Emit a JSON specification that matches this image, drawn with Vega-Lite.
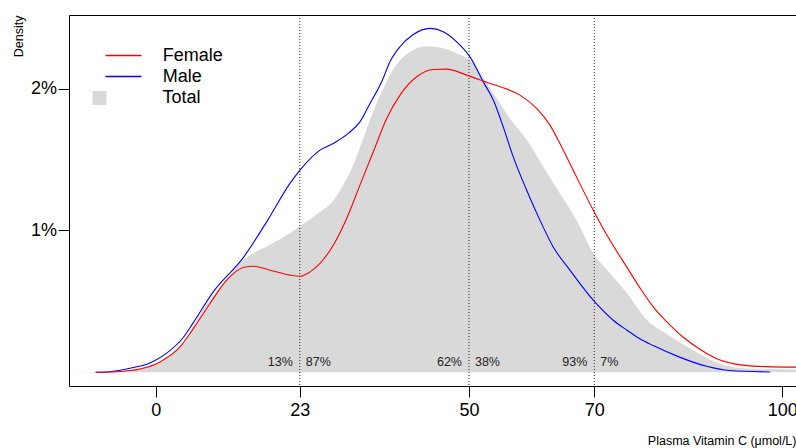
{
  "$schema": "https://vega.github.io/schema/vega-lite/v6.json",
  "autosize": "none",
  "width": 727,
  "height": 371,
  "padding": {"left": 69, "top": 15, "right": 0, "bottom": 62},
  "background": "white",
  "datasets": {
    "total": [
      {"x": -13.84, "d": 0, "group": "Total"},
      {"x": -9.7, "d": 0.00001, "group": "Total"},
      {"x": -6.2, "d": 0.00007, "group": "Total"},
      {"x": -2.5, "d": 0.00028, "group": "Total"},
      {"x": 1.76, "d": 0.00095, "group": "Total"},
      {"x": 4.4, "d": 0.0021, "group": "Total"},
      {"x": 7.07, "d": 0.0041, "group": "Total"},
      {"x": 8.67, "d": 0.0051, "group": "Total"},
      {"x": 11.33, "d": 0.0066, "group": "Total"},
      {"x": 13.98, "d": 0.0079, "group": "Total"},
      {"x": 18.24, "d": 0.009, "group": "Total"},
      {"x": 21.43, "d": 0.0098, "group": "Total"},
      {"x": 23.03, "d": 0.0103, "group": "Total"},
      {"x": 26.22, "d": 0.0113, "group": "Total"},
      {"x": 28.34, "d": 0.0121, "group": "Total"},
      {"x": 29.94, "d": 0.0132, "group": "Total"},
      {"x": 31.53, "d": 0.0146, "group": "Total"},
      {"x": 33.13, "d": 0.0165, "group": "Total"},
      {"x": 34.73, "d": 0.0184, "group": "Total"},
      {"x": 36.32, "d": 0.02, "group": "Total"},
      {"x": 38.46, "d": 0.0217, "group": "Total"},
      {"x": 40.58, "d": 0.0226, "group": "Total"},
      {"x": 43.25, "d": 0.023, "group": "Total"},
      {"x": 45.37, "d": 0.0229, "group": "Total"},
      {"x": 48.04, "d": 0.0225, "group": "Total"},
      {"x": 50.16, "d": 0.022, "group": "Total"},
      {"x": 52.28, "d": 0.0208, "group": "Total"},
      {"x": 53.88, "d": 0.0197, "group": "Total"},
      {"x": 56.54, "d": 0.0179, "group": "Total"},
      {"x": 59.21, "d": 0.0164, "group": "Total"},
      {"x": 61.86, "d": 0.0145, "group": "Total"},
      {"x": 64.52, "d": 0.0126, "group": "Total"},
      {"x": 67.19, "d": 0.0107, "group": "Total"},
      {"x": 69.84, "d": 0.0084, "group": "Total"},
      {"x": 72.5, "d": 0.007, "group": "Total"},
      {"x": 75.17, "d": 0.0056, "group": "Total"},
      {"x": 78.36, "d": 0.0037, "group": "Total"},
      {"x": 81.55, "d": 0.0027, "group": "Total"},
      {"x": 85.8, "d": 0.00155, "group": "Total"},
      {"x": 90.06, "d": 0.0006, "group": "Total"},
      {"x": 94.32, "d": 0.00026, "group": "Total"},
      {"x": 102.2, "d": 0.00019, "group": "Total"}
    ],
    "curves": [
      {"x": -9.58, "d": 0, "sex": "Male"},
      {"x": -7.29, "d": 0.00004, "sex": "Male"},
      {"x": -3.57, "d": 0.00033, "sex": "Male"},
      {"x": -0.91, "d": 0.00066, "sex": "Male"},
      {"x": 1.76, "d": 0.00135, "sex": "Male"},
      {"x": 4.4, "d": 0.00245, "sex": "Male"},
      {"x": 6.0, "d": 0.0035, "sex": "Male"},
      {"x": 9.19, "d": 0.00567, "sex": "Male"},
      {"x": 13.98, "d": 0.00809, "sex": "Male"},
      {"x": 17.71, "d": 0.01061, "sex": "Male"},
      {"x": 21.43, "d": 0.01332, "sex": "Male"},
      {"x": 23.03, "d": 0.01426, "sex": "Male"},
      {"x": 26.22, "d": 0.01567, "sex": "Male"},
      {"x": 28.34, "d": 0.01614, "sex": "Male"},
      {"x": 30.74, "d": 0.01685, "sex": "Male"},
      {"x": 32.6, "d": 0.01766, "sex": "Male"},
      {"x": 34.2, "d": 0.01896, "sex": "Male"},
      {"x": 36.07, "d": 0.02049, "sex": "Male"},
      {"x": 37.39, "d": 0.0219, "sex": "Male"},
      {"x": 38.99, "d": 0.02296, "sex": "Male"},
      {"x": 41.11, "d": 0.02383, "sex": "Male"},
      {"x": 43.77, "d": 0.02426, "sex": "Male"},
      {"x": 45.9, "d": 0.02402, "sex": "Male"},
      {"x": 48.04, "d": 0.02331, "sex": "Male"},
      {"x": 50.16, "d": 0.02225, "sex": "Male"},
      {"x": 52.28, "d": 0.0205, "sex": "Male"},
      {"x": 53.88, "d": 0.0192, "sex": "Male"},
      {"x": 55.47, "d": 0.01731, "sex": "Male"},
      {"x": 57.07, "d": 0.01519, "sex": "Male"},
      {"x": 59.21, "d": 0.01284, "sex": "Male"},
      {"x": 61.33, "d": 0.01073, "sex": "Male"},
      {"x": 63.45, "d": 0.00884, "sex": "Male"},
      {"x": 66.12, "d": 0.0072, "sex": "Male"},
      {"x": 69.84, "d": 0.00508, "sex": "Male"},
      {"x": 73.03, "d": 0.00367, "sex": "Male"},
      {"x": 75.17, "d": 0.00298, "sex": "Male"},
      {"x": 77.2, "d": 0.00238, "sex": "Male"},
      {"x": 79.41, "d": 0.00188, "sex": "Male"},
      {"x": 83.71, "d": 0.00105, "sex": "Male"},
      {"x": 87.94, "d": 0.00042, "sex": "Male"},
      {"x": 91.65, "d": 0.00012, "sex": "Male"},
      {"x": 98.04, "d": 0.00002, "sex": "Male"},
      {"x": -9.58, "d": 0, "sex": "Female"},
      {"x": -6.22, "d": 0.00004, "sex": "Female"},
      {"x": -2.5, "d": 0.00023, "sex": "Female"},
      {"x": 0.69, "d": 0.00073, "sex": "Female"},
      {"x": 3.88, "d": 0.00179, "sex": "Female"},
      {"x": 6.0, "d": 0.00308, "sex": "Female"},
      {"x": 8.67, "d": 0.00485, "sex": "Female"},
      {"x": 11.33, "d": 0.00649, "sex": "Female"},
      {"x": 13.98, "d": 0.00739, "sex": "Female"},
      {"x": 15.58, "d": 0.00748, "sex": "Female"},
      {"x": 18.24, "d": 0.0072, "sex": "Female"},
      {"x": 21.43, "d": 0.00685, "sex": "Female"},
      {"x": 23.03, "d": 0.00677, "sex": "Female"},
      {"x": 24.62, "d": 0.00708, "sex": "Female"},
      {"x": 26.22, "d": 0.00768, "sex": "Female"},
      {"x": 28.34, "d": 0.00896, "sex": "Female"},
      {"x": 30.48, "d": 0.01085, "sex": "Female"},
      {"x": 32.6, "d": 0.0132, "sex": "Female"},
      {"x": 34.73, "d": 0.01555, "sex": "Female"},
      {"x": 36.87, "d": 0.0179, "sex": "Female"},
      {"x": 38.99, "d": 0.01955, "sex": "Female"},
      {"x": 41.65, "d": 0.02084, "sex": "Female"},
      {"x": 44.3, "d": 0.02136, "sex": "Female"},
      {"x": 46.44, "d": 0.02138, "sex": "Female"},
      {"x": 49.63, "d": 0.02096, "sex": "Female"},
      {"x": 53.35, "d": 0.02037, "sex": "Female"},
      {"x": 54.95, "d": 0.02014, "sex": "Female"},
      {"x": 58.14, "d": 0.01955, "sex": "Female"},
      {"x": 60.8, "d": 0.01861, "sex": "Female"},
      {"x": 62.93, "d": 0.01743, "sex": "Female"},
      {"x": 64.52, "d": 0.01614, "sex": "Female"},
      {"x": 66.64, "d": 0.01425, "sex": "Female"},
      {"x": 69.84, "d": 0.01143, "sex": "Female"},
      {"x": 72.5, "d": 0.00931, "sex": "Female"},
      {"x": 75.17, "d": 0.00743, "sex": "Female"},
      {"x": 77.29, "d": 0.00595, "sex": "Female"},
      {"x": 79.41, "d": 0.00461, "sex": "Female"},
      {"x": 81.55, "d": 0.00357, "sex": "Female"},
      {"x": 84.2, "d": 0.00247, "sex": "Female"},
      {"x": 86.86, "d": 0.00162, "sex": "Female"},
      {"x": 89.53, "d": 0.00096, "sex": "Female"},
      {"x": 92.18, "d": 0.00061, "sex": "Female"},
      {"x": 94.85, "d": 0.00045, "sex": "Female"},
      {"x": 97.51, "d": 0.0004, "sex": "Female"},
      {"x": 102.2, "d": 0.00036, "sex": "Female"}
    ],
    "cuts": [{"x": 23}, {"x": 50}, {"x": 70}],
    "labels": [
      {"x": 23, "label": "13%", "side": "left"},
      {"x": 23, "label": "87%", "side": "right"},
      {"x": 50, "label": "62%", "side": "left"},
      {"x": 50, "label": "38%", "side": "right"},
      {"x": 70, "label": "93%", "side": "left"},
      {"x": 70, "label": "\u00a07%", "side": "right"}
    ]
  },
  "layer": [
    {
      "data": {"name": "total"},
      "mark": {"type": "area", "interpolate": "monotone", "clip": true},
      "encoding": {
        "x": {
          "field": "x", "type": "quantitative",
          "scale": {"domain": [-13.84, 102.2], "nice": false, "zero": false},
          "axis": {
            "orient": "bottom",
            "values": [0, 23, 50, 70, 100],
            "labelFlush": false, "labelOverlap": false, "labelBound": false,
            "labelPadding": 4.5,
            "title": "Plasma Vitamin C (μmol/L)",
            "titleFontSize": 12.5,
            "titleAnchor": "end",
            "titleAlign": "right",
            "titleBaseline": "alphabetic",
            "titleX": 727,
            "titleY": 58
          }
        },
        "y": {
          "field": "d", "type": "quantitative",
          "scale": {"domain": [-0.00097, 0.0252], "nice": false, "zero": false},
          "axis": {
            "values": [0.01, 0.02],
            "format": ".0%",
            "labelPadding": 1.5,
            "title": "Density",
            "titleFontSize": 12.5,
            "titleAngle": -90,
            "titleAlign": "right",
            "titleBaseline": "middle",
            "titleX": -50.5,
            "titleY": 0
          }
        },
        "fill": {
          "field": "group", "type": "nominal",
          "scale": {"domain": ["Total"], "range": ["#D9D9D9"]},
          "legend": {
            "orient": "none", "legendX": 21.5, "legendY": 74, "title": null,
            "symbolType": "square", "symbolSize": 196, "symbolStrokeWidth": 0,
            "labelOffset": 54
          }
        }
      }
    },
    {
      "data": {"name": "cuts"},
      "mark": {"type": "rule", "color": "#222", "strokeWidth": 1, "strokeDash": [1, 2]},
      "encoding": {
        "x": {
          "field": "x", "type": "quantitative",
          "axis": {"orient": "top", "labels": false, "ticks": false, "title": null, "domain": true}
        }
      }
    },
    {
      "data": {"name": "labels"},
      "transform": [{"filter": "datum.side == 'left'"}],
      "mark": {"type": "text", "align": "right", "baseline": "alphabetic", "dx": -7, "fontSize": 12.5, "font": "Liberation Sans", "color": "#222"},
      "encoding": {
        "x": {"field": "x", "type": "quantitative", "axis": null},
        "y": {"datum": 0.00044, "type": "quantitative"},
        "text": {"field": "label"}
      }
    },
    {
      "data": {"name": "labels"},
      "transform": [{"filter": "datum.side == 'right'"}],
      "mark": {"type": "text", "align": "left", "baseline": "alphabetic", "dx": 6, "fontSize": 12.5, "font": "Liberation Sans", "color": "#222"},
      "encoding": {
        "x": {"field": "x", "type": "quantitative", "axis": null},
        "y": {"datum": 0.00044, "type": "quantitative"},
        "text": {"field": "label"}
      }
    },
    {
      "data": {"name": "curves"},
      "mark": {"type": "line", "interpolate": "monotone", "strokeWidth": 1.1, "clip": true},
      "encoding": {
        "x": {"field": "x", "type": "quantitative", "axis": null},
        "y": {"field": "d", "type": "quantitative"},
        "stroke": {
          "field": "sex", "type": "nominal",
          "scale": {"domain": ["Female", "Male"], "range": ["#FF0000", "#0000FF"]},
          "legend": {
            "orient": "none", "legendX": 45.5, "legendY": 31.5, "title": null,
            "symbolType": "M-3,0H3", "symbolSize": 144, "symbolStrokeWidth": 1.5,
            "labelOffset": 30.3, "rowPadding": 3
          }
        }
      }
    }
  ],
  "resolve": {"axis": {"x": "independent"}},
  "config": {
    "font": "Liberation Sans",
    "view": {"stroke": null},
    "axis": {
      "grid": false,
      "domainColor": "#000", "domainWidth": 1,
      "tickColor": "#000", "tickWidth": 1, "tickSize": 11,
      "labelColor": "#000", "labelFont": "Liberation Sans", "labelFontSize": 18,
      "titleColor": "#000", "titleFont": "Liberation Sans", "titleFontWeight": "normal"
    },
    "legend": {
      "labelFont": "Liberation Sans", "labelFontSize": 18, "labelColor": "#000",
      "padding": 0
    }
  }
}
